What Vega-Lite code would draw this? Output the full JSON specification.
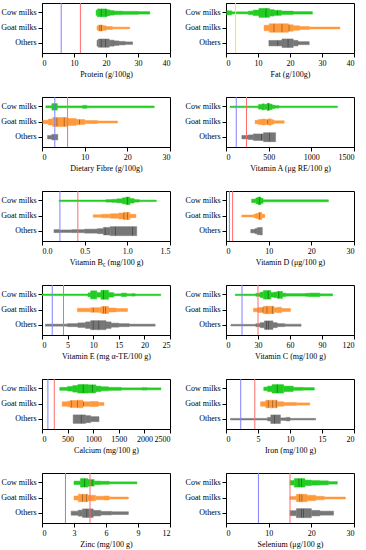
{
"$schema":"https://vega.github.io/schema/vega-lite/v6.json",
"padding":{"left":0,"top":2,"right":0,"bottom":0},
"columns":2,
"spacing":{"row":17,"column":13},
"config":{
 "font":"Liberation Serif",
 "view":{"stroke":"black","strokeWidth":1},
 "bar":{"strokeWidth":0.5},
 "axis":{"domainColor":"black","tickColor":"black","labelColor":"black","titleColor":"black","labelFont":"Liberation Serif","titleFont":"Liberation Serif","labelFontSize":8,"titleFontSize":8,"titleFontWeight":"normal","grid":false,"tickSize":4,"labelPadding":2,"titlePadding":3}
},
"datasets":{
"v":[
{"n":"P","g":"C","a":16.9,"b":17.3,"w":0.5},{"n":"P","g":"C","a":17.3,"b":20.2,"w":0.78},{"n":"P","g":"C","a":20.2,"b":21.2,"w":0.6},{"n":"P","g":"C","a":21.2,"b":22.5,"w":0.45},{"n":"P","g":"C","a":22.5,"b":25,"w":0.35},{"n":"P","g":"C","a":25,"b":30,"w":0.3},{"n":"P","g":"C","a":30,"b":33.7,"w":0.25},
{"n":"P","g":"G","a":17.2,"b":17.6,"w":0.4},{"n":"P","g":"G","a":17.6,"b":19,"w":0.6},{"n":"P","g":"G","a":19,"b":20,"w":0.45},{"n":"P","g":"G","a":20,"b":22,"w":0.3},{"n":"P","g":"G","a":22,"b":27.4,"w":0.18},
{"n":"P","g":"O","a":17.2,"b":17.6,"w":0.6},{"n":"P","g":"O","a":17.6,"b":21,"w":0.82},{"n":"P","g":"O","a":21,"b":22.5,"w":0.6},{"n":"P","g":"O","a":22.5,"b":24,"w":0.45},{"n":"P","g":"O","a":24,"b":26,"w":0.35},{"n":"P","g":"O","a":26,"b":28.3,"w":0.25},
{"n":"F","g":"C","a":0.2,"b":1.8,"w":0.4},{"n":"F","g":"C","a":1.8,"b":7,"w":0.2},{"n":"F","g":"C","a":7,"b":8.5,"w":0.35},{"n":"F","g":"C","a":8.5,"b":10.3,"w":0.55},{"n":"F","g":"C","a":10.3,"b":13.6,"w":0.9},{"n":"F","g":"C","a":13.6,"b":15,"w":0.65},{"n":"F","g":"C","a":15,"b":17.3,"w":0.5},{"n":"F","g":"C","a":17.3,"b":21,"w":0.35},{"n":"F","g":"C","a":21,"b":27,"w":0.25},
{"n":"F","g":"G","a":11.9,"b":13.5,"w":0.55},{"n":"F","g":"G","a":13.5,"b":19.5,"w":0.85},{"n":"F","g":"G","a":19.5,"b":21,"w":0.65},{"n":"F","g":"G","a":21,"b":23,"w":0.45},{"n":"F","g":"G","a":23,"b":26,"w":0.3},{"n":"F","g":"G","a":26,"b":35.6,"w":0.2},
{"n":"F","g":"O","a":13.4,"b":17.5,"w":0.55},{"n":"F","g":"O","a":17.5,"b":21,"w":0.85},{"n":"F","g":"O","a":21,"b":22.5,"w":0.55},{"n":"F","g":"O","a":22.5,"b":26,"w":0.3},
{"n":"DF","g":"C","a":0.9,"b":2.3,"w":0.2},{"n":"DF","g":"C","a":2.3,"b":3.6,"w":0.65},{"n":"DF","g":"C","a":3.6,"b":9.5,"w":0.18},{"n":"DF","g":"C","a":9.5,"b":10.5,"w":0.3},{"n":"DF","g":"C","a":10.5,"b":26.3,"w":0.18},
{"n":"DF","g":"G","a":0.2,"b":1.5,"w":0.35},{"n":"DF","g":"G","a":1.5,"b":2.5,"w":0.6},{"n":"DF","g":"G","a":2.5,"b":6,"w":0.9},{"n":"DF","g":"G","a":6,"b":8,"w":0.7},{"n":"DF","g":"G","a":8,"b":10,"w":0.5},{"n":"DF","g":"G","a":10,"b":13,"w":0.3},{"n":"DF","g":"G","a":13,"b":17.7,"w":0.2},
{"n":"DF","g":"O","a":1.3,"b":2.3,"w":0.35},{"n":"DF","g":"O","a":2.3,"b":3.7,"w":0.55},
{"n":"A","g":"C","a":47,"b":380,"w":0.15},{"n":"A","g":"C","a":380,"b":420,"w":0.45},{"n":"A","g":"C","a":420,"b":450,"w":0.6},{"n":"A","g":"C","a":450,"b":480,"w":0.5},{"n":"A","g":"C","a":480,"b":510,"w":0.7},{"n":"A","g":"C","a":510,"b":540,"w":0.55},{"n":"A","g":"C","a":540,"b":570,"w":0.35},{"n":"A","g":"C","a":570,"b":620,"w":0.25},{"n":"A","g":"C","a":620,"b":1306,"w":0.15},
{"n":"A","g":"G","a":341,"b":380,"w":0.35},{"n":"A","g":"G","a":380,"b":420,"w":0.5},{"n":"A","g":"G","a":420,"b":460,"w":0.6},{"n":"A","g":"G","a":460,"b":500,"w":0.5},{"n":"A","g":"G","a":500,"b":530,"w":0.65},{"n":"A","g":"G","a":530,"b":560,"w":0.45},{"n":"A","g":"G","a":560,"b":682,"w":0.25},
{"n":"A","g":"O","a":186,"b":260,"w":0.35},{"n":"A","g":"O","a":260,"b":320,"w":0.45},{"n":"A","g":"O","a":320,"b":440,"w":0.65},{"n":"A","g":"O","a":440,"b":581,"w":0.9},
{"n":"B6","g":"C","a":0.2,"b":0.75,"w":0.15},{"n":"B6","g":"C","a":0.75,"b":0.82,"w":0.25},{"n":"B6","g":"C","a":0.82,"b":0.88,"w":0.3},{"n":"B6","g":"C","a":0.88,"b":0.94,"w":0.4},{"n":"B6","g":"C","a":0.94,"b":0.98,"w":0.6},{"n":"B6","g":"C","a":0.98,"b":1.03,"w":0.75},{"n":"B6","g":"C","a":1.03,"b":1.08,"w":0.45},{"n":"B6","g":"C","a":1.08,"b":1.14,"w":0.25},{"n":"B6","g":"C","a":1.14,"b":1.34,"w":0.15},
{"n":"B6","g":"G","a":0.6,"b":0.7,"w":0.25},{"n":"B6","g":"G","a":0.7,"b":0.8,"w":0.35},{"n":"B6","g":"G","a":0.8,"b":0.9,"w":0.45},{"n":"B6","g":"G","a":0.9,"b":0.96,"w":0.6},{"n":"B6","g":"G","a":0.96,"b":1.03,"w":0.72},{"n":"B6","g":"G","a":1.03,"b":1.1,"w":0.35},
{"n":"B6","g":"O","a":0.14,"b":0.2,"w":0.3},{"n":"B6","g":"O","a":0.2,"b":0.35,"w":0.25},{"n":"B6","g":"O","a":0.35,"b":0.5,"w":0.3},{"n":"B6","g":"O","a":0.5,"b":0.65,"w":0.4},{"n":"B6","g":"O","a":0.65,"b":0.72,"w":0.5},{"n":"B6","g":"O","a":0.72,"b":0.8,"w":0.75},{"n":"B6","g":"O","a":0.8,"b":1.11,"w":0.9},
{"n":"D","g":"C","a":6,"b":7,"w":0.35},{"n":"D","g":"C","a":7,"b":7.5,"w":0.6},{"n":"D","g":"C","a":7.5,"b":8.2,"w":0.75},{"n":"D","g":"C","a":8.2,"b":8.7,"w":0.5},{"n":"D","g":"C","a":8.7,"b":24,"w":0.2},
{"n":"D","g":"G","a":3.7,"b":6.5,"w":0.2},{"n":"D","g":"G","a":6.5,"b":7,"w":0.35},{"n":"D","g":"G","a":7,"b":7.6,"w":0.5},{"n":"D","g":"G","a":7.6,"b":8.4,"w":0.7},{"n":"D","g":"G","a":8.4,"b":9.1,"w":0.35},
{"n":"D","g":"O","a":5.8,"b":6.8,"w":0.35},{"n":"D","g":"O","a":6.8,"b":7.3,"w":0.5},{"n":"D","g":"O","a":7.3,"b":8,"w":0.7},{"n":"D","g":"O","a":8,"b":8.5,"w":0.75},
{"n":"E","g":"C","a":0,"b":9,"w":0.15},{"n":"E","g":"C","a":9,"b":9.5,"w":0.4},{"n":"E","g":"C","a":9.5,"b":10.7,"w":0.8},{"n":"E","g":"C","a":10.7,"b":11.5,"w":0.45},{"n":"E","g":"C","a":11.5,"b":13,"w":0.9},{"n":"E","g":"C","a":13,"b":14,"w":0.45},{"n":"E","g":"C","a":14,"b":15.5,"w":0.2},{"n":"E","g":"C","a":15.5,"b":16.5,"w":0.35},{"n":"E","g":"C","a":16.5,"b":17.5,"w":0.2},{"n":"E","g":"C","a":17.5,"b":18.2,"w":0.25},{"n":"E","g":"C","a":18.2,"b":23.2,"w":0.15},
{"n":"E","g":"G","a":6.9,"b":9.5,"w":0.35},{"n":"E","g":"G","a":9.5,"b":11.2,"w":0.45},{"n":"E","g":"G","a":11.2,"b":11.6,"w":0.5},{"n":"E","g":"G","a":11.6,"b":13,"w":0.7},{"n":"E","g":"G","a":13,"b":14.5,"w":0.4},{"n":"E","g":"G","a":14.5,"b":16.7,"w":0.3},
{"n":"E","g":"O","a":0.65,"b":5,"w":0.2},{"n":"E","g":"O","a":5,"b":7,"w":0.3},{"n":"E","g":"O","a":7,"b":8.5,"w":0.45},{"n":"E","g":"O","a":8.5,"b":9.5,"w":0.65},{"n":"E","g":"O","a":9.5,"b":12.5,"w":0.9},{"n":"E","g":"O","a":12.5,"b":13.5,"w":0.65},{"n":"E","g":"O","a":13.5,"b":15,"w":0.4},{"n":"E","g":"O","a":15,"b":17,"w":0.3},{"n":"E","g":"O","a":17,"b":22.1,"w":0.2},
{"n":"C","g":"C","a":8.7,"b":28,"w":0.15},{"n":"C","g":"C","a":28,"b":32,"w":0.3},{"n":"C","g":"C","a":32,"b":35,"w":0.55},{"n":"C","g":"C","a":35,"b":42,"w":0.85},{"n":"C","g":"C","a":42,"b":45,"w":0.45},{"n":"C","g":"C","a":45,"b":48,"w":0.55},{"n":"C","g":"C","a":48,"b":53,"w":0.7},{"n":"C","g":"C","a":53,"b":56,"w":0.35},{"n":"C","g":"C","a":56,"b":75,"w":0.25},{"n":"C","g":"C","a":75,"b":78,"w":0.3},{"n":"C","g":"C","a":78,"b":88,"w":0.35},{"n":"C","g":"C","a":88,"b":100,"w":0.2},
{"n":"C","g":"G","a":25.7,"b":30,"w":0.35},{"n":"C","g":"G","a":30,"b":35,"w":0.5},{"n":"C","g":"G","a":35,"b":45,"w":0.75},{"n":"C","g":"G","a":45,"b":48,"w":0.45},{"n":"C","g":"G","a":48,"b":52,"w":0.55},{"n":"C","g":"G","a":52,"b":60.5,"w":0.3},
{"n":"C","g":"O","a":4.6,"b":28,"w":0.15},{"n":"C","g":"O","a":28,"b":32,"w":0.3},{"n":"C","g":"O","a":32,"b":36,"w":0.5},{"n":"C","g":"O","a":36,"b":44,"w":0.85},{"n":"C","g":"O","a":44,"b":48,"w":0.5},{"n":"C","g":"O","a":48,"b":55,"w":0.3},{"n":"C","g":"O","a":55,"b":70.4,"w":0.2},
{"n":"Ca","g":"C","a":347,"b":500,"w":0.3},{"n":"Ca","g":"C","a":500,"b":600,"w":0.45},{"n":"Ca","g":"C","a":600,"b":700,"w":0.65},{"n":"Ca","g":"C","a":700,"b":900,"w":0.85},{"n":"Ca","g":"C","a":900,"b":1050,"w":0.8},{"n":"Ca","g":"C","a":1050,"b":1150,"w":0.55},{"n":"Ca","g":"C","a":1150,"b":1300,"w":0.4},{"n":"Ca","g":"C","a":1300,"b":1550,"w":0.3},{"n":"Ca","g":"C","a":1550,"b":1950,"w":0.2},{"n":"Ca","g":"C","a":1950,"b":2050,"w":0.25},{"n":"Ca","g":"C","a":2050,"b":2323,"w":0.2},
{"n":"Ca","g":"G","a":393,"b":500,"w":0.45},{"n":"Ca","g":"G","a":500,"b":550,"w":0.55},{"n":"Ca","g":"G","a":550,"b":700,"w":0.7},{"n":"Ca","g":"G","a":700,"b":800,"w":0.75},{"n":"Ca","g":"G","a":800,"b":950,"w":0.45},{"n":"Ca","g":"G","a":950,"b":1100,"w":0.5},{"n":"Ca","g":"G","a":1100,"b":1211,"w":0.3},
{"n":"Ca","g":"O","a":609,"b":850,"w":0.85},{"n":"Ca","g":"O","a":850,"b":950,"w":0.7},{"n":"Ca","g":"O","a":950,"b":1113,"w":0.5},
{"n":"Fe","g":"C","a":5.9,"b":6.5,"w":0.35},{"n":"Fe","g":"C","a":6.5,"b":7.2,"w":0.55},{"n":"Fe","g":"C","a":7.2,"b":9,"w":0.85},{"n":"Fe","g":"C","a":9,"b":10.5,"w":0.55},{"n":"Fe","g":"C","a":10.5,"b":12,"w":0.3},{"n":"Fe","g":"C","a":12,"b":13.8,"w":0.25},
{"n":"Fe","g":"G","a":5.4,"b":6.2,"w":0.45},{"n":"Fe","g":"G","a":6.2,"b":8,"w":0.75},{"n":"Fe","g":"G","a":8,"b":9,"w":0.45},{"n":"Fe","g":"G","a":9,"b":11,"w":0.3},{"n":"Fe","g":"G","a":11,"b":13.1,"w":0.22},
{"n":"Fe","g":"O","a":0.7,"b":6.5,"w":0.15},{"n":"Fe","g":"O","a":6.5,"b":7,"w":0.35},{"n":"Fe","g":"O","a":7,"b":8.5,"w":0.85},{"n":"Fe","g":"O","a":8.5,"b":9.4,"w":0.25},{"n":"Fe","g":"O","a":9.4,"b":10,"w":0.35},{"n":"Fe","g":"O","a":10,"b":14,"w":0.15},
{"n":"Zn","g":"C","a":3,"b":3.6,"w":0.35},{"n":"Zn","g":"C","a":3.6,"b":4.3,"w":0.85},{"n":"Zn","g":"C","a":4.3,"b":4.9,"w":0.65},{"n":"Zn","g":"C","a":4.9,"b":5.5,"w":0.35},{"n":"Zn","g":"C","a":5.5,"b":6.3,"w":0.3},{"n":"Zn","g":"C","a":6.3,"b":8.9,"w":0.2},
{"n":"Zn","g":"G","a":3,"b":3.4,"w":0.4},{"n":"Zn","g":"G","a":3.4,"b":4.3,"w":0.75},{"n":"Zn","g":"G","a":4.3,"b":5,"w":0.55},{"n":"Zn","g":"G","a":5,"b":5.8,"w":0.35},{"n":"Zn","g":"G","a":5.8,"b":6.3,"w":0.4},{"n":"Zn","g":"G","a":6.3,"b":8.1,"w":0.2},
{"n":"Zn","g":"O","a":2.73,"b":3.4,"w":0.4},{"n":"Zn","g":"O","a":3.4,"b":3.8,"w":0.6},{"n":"Zn","g":"O","a":3.8,"b":4.8,"w":0.85},{"n":"Zn","g":"O","a":4.8,"b":5.5,"w":0.55},{"n":"Zn","g":"O","a":5.5,"b":6.5,"w":0.35},{"n":"Zn","g":"O","a":6.5,"b":8.1,"w":0.28},
{"n":"Se","g":"C","a":15,"b":16,"w":0.45},{"n":"Se","g":"C","a":16,"b":18.5,"w":0.85},{"n":"Se","g":"C","a":18.5,"b":20,"w":0.55},{"n":"Se","g":"C","a":20,"b":22,"w":0.45},{"n":"Se","g":"C","a":22,"b":24,"w":0.4},{"n":"Se","g":"C","a":24,"b":26.1,"w":0.25},
{"n":"Se","g":"G","a":15,"b":16.5,"w":0.3},{"n":"Se","g":"G","a":16.5,"b":19,"w":0.75},{"n":"Se","g":"G","a":19,"b":21,"w":0.55},{"n":"Se","g":"G","a":21,"b":23,"w":0.35},{"n":"Se","g":"G","a":23,"b":28,"w":0.2},
{"n":"Se","g":"O","a":15,"b":16.5,"w":0.5},{"n":"Se","g":"O","a":16.5,"b":20,"w":0.9},{"n":"Se","g":"O","a":20,"b":22,"w":0.55},{"n":"Se","g":"O","a":22,"b":25.2,"w":0.4}
],
"t":[
{"n":"P","g":"C","a":18.5,"w":0.78},{"n":"P","g":"C","a":20,"w":0.78},{"n":"P","g":"G","a":18.1,"w":0.6},{"n":"P","g":"G","a":18.6,"w":0.6},{"n":"P","g":"O","a":18.5,"w":0.82},{"n":"P","g":"O","a":19.8,"w":0.82},
{"n":"F","g":"C","a":12.5,"w":0.9},{"n":"F","g":"C","a":16,"w":0.5},{"n":"F","g":"G","a":15,"w":0.85},{"n":"F","g":"G","a":17.5,"w":0.85},{"n":"F","g":"G","a":19.7,"w":0.65},{"n":"F","g":"O","a":16.2,"w":0.55},{"n":"F","g":"O","a":19.4,"w":0.85},
{"n":"DF","g":"C","a":3,"w":0.65},{"n":"DF","g":"G","a":3.5,"w":0.9},{"n":"DF","g":"G","a":5.2,"w":0.9},{"n":"DF","g":"G","a":8.8,"w":0.5},{"n":"DF","g":"O","a":2.9,"w":0.55},
{"n":"A","g":"C","a":500,"w":0.7},{"n":"A","g":"G","a":490,"w":0.5},{"n":"A","g":"O","a":415,"w":0.65},{"n":"A","g":"O","a":512,"w":0.9},
{"n":"B6","g":"C","a":1.0,"w":0.75},{"n":"B6","g":"G","a":0.96,"w":0.72},{"n":"B6","g":"G","a":1.0,"w":0.72},{"n":"B6","g":"O","a":0.74,"w":0.75},{"n":"B6","g":"O","a":0.86,"w":0.9},{"n":"B6","g":"O","a":1.06,"w":0.9},
{"n":"D","g":"C","a":7.8,"w":0.75},{"n":"D","g":"G","a":7.9,"w":0.7},
{"n":"E","g":"C","a":12,"w":0.9},{"n":"E","g":"G","a":10,"w":0.45},{"n":"E","g":"G","a":12,"w":0.7},{"n":"E","g":"G","a":12.4,"w":0.7},{"n":"E","g":"O","a":10,"w":0.9},{"n":"E","g":"O","a":11.1,"w":0.9},
{"n":"C","g":"C","a":39.5,"w":0.85},{"n":"C","g":"C","a":49.5,"w":0.7},{"n":"C","g":"G","a":34.7,"w":0.5},{"n":"C","g":"G","a":38.4,"w":0.75},{"n":"C","g":"G","a":43.4,"w":0.75},{"n":"C","g":"O","a":37.8,"w":0.85},{"n":"C","g":"O","a":40,"w":0.85},
{"n":"Ca","g":"C","a":805,"w":0.85},{"n":"Ca","g":"C","a":982,"w":0.8},{"n":"Ca","g":"G","a":570,"w":0.7},{"n":"Ca","g":"G","a":695,"w":0.7},{"n":"Ca","g":"G","a":810,"w":0.45},{"n":"Ca","g":"O","a":766,"w":0.85},
{"n":"Fe","g":"C","a":8.0,"w":0.85},{"n":"Fe","g":"G","a":6.6,"w":0.75},{"n":"Fe","g":"G","a":7.3,"w":0.75},{"n":"Fe","g":"G","a":7.85,"w":0.75},{"n":"Fe","g":"O","a":7.6,"w":0.85},
{"n":"Zn","g":"C","a":4.0,"w":0.85},{"n":"Zn","g":"C","a":4.7,"w":0.65},{"n":"Zn","g":"G","a":3.8,"w":0.75},{"n":"Zn","g":"G","a":4.15,"w":0.75},{"n":"Zn","g":"O","a":4.2,"w":0.85},
{"n":"Se","g":"C","a":17.1,"w":0.85},{"n":"Se","g":"C","a":17.7,"w":0.85},{"n":"Se","g":"G","a":17.3,"w":0.75},{"n":"Se","g":"G","a":17.8,"w":0.75},{"n":"Se","g":"O","a":17.7,"w":0.9},{"n":"Se","g":"O","a":18.2,"w":0.9}
],
"r":[
{"n":"P","k":"lo","a":6},{"n":"P","k":"hi","a":12},
{"n":"F","k":"y","a":3},
{"n":"DF","k":"lo","a":3},{"n":"DF","k":"hi","a":6},
{"n":"A","k":"lo","a":120},{"n":"A","k":"hi","a":240},
{"n":"B6","k":"lo","a":0.21},{"n":"B6","k":"hi","a":0.42},
{"n":"D","k":"lo","a":0.8},{"n":"D","k":"hi","a":1.55},
{"n":"E","k":"lo","a":2.0},{"n":"E","k":"hi","a":4.2},
{"n":"C","k":"lo","a":15},{"n":"C","k":"hi","a":30},
{"n":"Ca","k":"lo","a":115},{"n":"Ca","k":"hi","a":240},
{"n":"Fe","k":"lo","a":2.3},{"n":"Fe","k":"hi","a":4.5},
{"n":"Zn","k":"lo","a":2.2},{"n":"Zn","k":"hi","a":4.5},
{"n":"Se","k":"lo","a":7.6},{"n":"Se","k":"hi","a":15}
]
},
"concat":[
{"width":128,"height":50,"encoding":{"x":{"field":"a","type":"quantitative","scale":{"domain":[0,40],"nice":false},"axis":{"values":[0,10,20,30,40],"format":"d","title":"Protein (g/100g)"}}},
 "layer":[
  {"data":{"name":"v"},"transform":[{"filter":"datum.n==='P'"}],"mark":"bar","encoding":{"x2":{"field":"b"},"y":{"field":"g","type":"nominal","sort":["C","G","O"],"scale":{"paddingInner":0,"paddingOuter":0.15},"axis":{"title":null,"labelExpr":"datum.value==='C'?'Cow milks':datum.value==='G'?'Goat milks':'Others'"}},"size":{"field":"w","type":"quantitative","scale":{"domain":[0,1],"range":[0,10]},"legend":null},"color":{"field":"g","type":"nominal","scale":{"domain":["C","G","O"],"range":["#22cc22","#ff9a3c","#777777"]},"legend":null},"stroke":{"field":"g","type":"nominal","scale":{"domain":["C","G","O"],"range":["#22cc22","#ff9a3c","#777777"]},"legend":null}}},
  {"data":{"name":"t"},"transform":[{"filter":"datum.n==='P'"}],"mark":{"type":"tick","color":"black","opacity":0.45,"thickness":0.7},"encoding":{"y":{"field":"g","type":"nominal","sort":["C","G","O"]},"size":{"field":"w","type":"quantitative"}}},
  {"data":{"name":"r"},"transform":[{"filter":"datum.n==='P'"}],"mark":{"type":"rule","strokeWidth":1},"encoding":{"color":{"field":"k","type":"nominal","scale":{"domain":["lo","hi","y"],"range":["#8080ff","#ff6b6b","#ffee00"]},"legend":null}}}
 ],"resolve":{"scale":{"color":"independent"}}},
{"width":128,"height":50,"encoding":{"x":{"field":"a","type":"quantitative","scale":{"domain":[0,40],"nice":false},"axis":{"values":[0,10,20,30,40],"format":"d","title":"Fat (g/100g)"}}},
 "layer":[
  {"data":{"name":"v"},"transform":[{"filter":"datum.n==='F'"}],"mark":"bar","encoding":{"x2":{"field":"b"},"y":{"field":"g","type":"nominal","sort":["C","G","O"],"scale":{"paddingInner":0,"paddingOuter":0.15},"axis":{"title":null,"labelExpr":"datum.value==='C'?'Cow milks':datum.value==='G'?'Goat milks':'Others'"}},"size":{"field":"w","type":"quantitative","scale":{"domain":[0,1],"range":[0,10]},"legend":null},"color":{"field":"g","type":"nominal","scale":{"domain":["C","G","O"],"range":["#22cc22","#ff9a3c","#777777"]},"legend":null},"stroke":{"field":"g","type":"nominal","scale":{"domain":["C","G","O"],"range":["#22cc22","#ff9a3c","#777777"]},"legend":null}}},
  {"data":{"name":"t"},"transform":[{"filter":"datum.n==='F'"}],"mark":{"type":"tick","color":"black","opacity":0.45,"thickness":0.7},"encoding":{"y":{"field":"g","type":"nominal","sort":["C","G","O"]},"size":{"field":"w","type":"quantitative"}}},
  {"data":{"name":"r"},"transform":[{"filter":"datum.n==='F'"}],"mark":{"type":"rule","strokeWidth":1},"encoding":{"color":{"field":"k","type":"nominal","scale":{"domain":["lo","hi","y"],"range":["#8080ff","#ff6b6b","#ffee00"]},"legend":null}}}
 ],"resolve":{"scale":{"color":"independent"}}},
{"width":128,"height":50,"encoding":{"x":{"field":"a","type":"quantitative","scale":{"domain":[0,30],"nice":false},"axis":{"values":[0,10,20,30],"format":"d","title":"Dietary Fibre (g/100g)"}}},
 "layer":[
  {"data":{"name":"v"},"transform":[{"filter":"datum.n==='DF'"}],"mark":"bar","encoding":{"x2":{"field":"b"},"y":{"field":"g","type":"nominal","sort":["C","G","O"],"scale":{"paddingInner":0,"paddingOuter":0.15},"axis":{"title":null,"labelExpr":"datum.value==='C'?'Cow milks':datum.value==='G'?'Goat milks':'Others'"}},"size":{"field":"w","type":"quantitative","scale":{"domain":[0,1],"range":[0,10]},"legend":null},"color":{"field":"g","type":"nominal","scale":{"domain":["C","G","O"],"range":["#22cc22","#ff9a3c","#777777"]},"legend":null},"stroke":{"field":"g","type":"nominal","scale":{"domain":["C","G","O"],"range":["#22cc22","#ff9a3c","#777777"]},"legend":null}}},
  {"data":{"name":"t"},"transform":[{"filter":"datum.n==='DF'"}],"mark":{"type":"tick","color":"black","opacity":0.45,"thickness":0.7},"encoding":{"y":{"field":"g","type":"nominal","sort":["C","G","O"]},"size":{"field":"w","type":"quantitative"}}},
  {"data":{"name":"r"},"transform":[{"filter":"datum.n==='DF'"}],"mark":{"type":"rule","strokeWidth":1},"encoding":{"color":{"field":"k","type":"nominal","scale":{"domain":["lo","hi","y"],"range":["#8080ff","#ff6b6b","#ffee00"]},"legend":null}}}
 ],"resolve":{"scale":{"color":"independent"}}},
{"width":128,"height":50,"encoding":{"x":{"field":"a","type":"quantitative","scale":{"domain":[0,1500],"nice":false},"axis":{"values":[0,500,1000,1500],"format":"d","title":"Vitamin A (μg RE/100 g)"}}},
 "layer":[
  {"data":{"name":"v"},"transform":[{"filter":"datum.n==='A'"}],"mark":"bar","encoding":{"x2":{"field":"b"},"y":{"field":"g","type":"nominal","sort":["C","G","O"],"scale":{"paddingInner":0,"paddingOuter":0.15},"axis":{"title":null,"labelExpr":"datum.value==='C'?'Cow milks':datum.value==='G'?'Goat milks':'Others'"}},"size":{"field":"w","type":"quantitative","scale":{"domain":[0,1],"range":[0,10]},"legend":null},"color":{"field":"g","type":"nominal","scale":{"domain":["C","G","O"],"range":["#22cc22","#ff9a3c","#777777"]},"legend":null},"stroke":{"field":"g","type":"nominal","scale":{"domain":["C","G","O"],"range":["#22cc22","#ff9a3c","#777777"]},"legend":null}}},
  {"data":{"name":"t"},"transform":[{"filter":"datum.n==='A'"}],"mark":{"type":"tick","color":"black","opacity":0.45,"thickness":0.7},"encoding":{"y":{"field":"g","type":"nominal","sort":["C","G","O"]},"size":{"field":"w","type":"quantitative"}}},
  {"data":{"name":"r"},"transform":[{"filter":"datum.n==='A'"}],"mark":{"type":"rule","strokeWidth":1},"encoding":{"color":{"field":"k","type":"nominal","scale":{"domain":["lo","hi","y"],"range":["#8080ff","#ff6b6b","#ffee00"]},"legend":null}}}
 ],"resolve":{"scale":{"color":"independent"}}},
{"width":128,"height":50,"encoding":{"x":{"field":"a","type":"quantitative","scale":{"domain":[0,1.5],"nice":false},"axis":{"values":[0,0.5,1,1.5],"format":".1f","title":"Vitamin B₆ (mg/100 g)"}}},
 "layer":[
  {"data":{"name":"v"},"transform":[{"filter":"datum.n==='B6'"}],"mark":"bar","encoding":{"x2":{"field":"b"},"y":{"field":"g","type":"nominal","sort":["C","G","O"],"scale":{"paddingInner":0,"paddingOuter":0.15},"axis":{"title":null,"labelExpr":"datum.value==='C'?'Cow milks':datum.value==='G'?'Goat milks':'Others'"}},"size":{"field":"w","type":"quantitative","scale":{"domain":[0,1],"range":[0,10]},"legend":null},"color":{"field":"g","type":"nominal","scale":{"domain":["C","G","O"],"range":["#22cc22","#ff9a3c","#777777"]},"legend":null},"stroke":{"field":"g","type":"nominal","scale":{"domain":["C","G","O"],"range":["#22cc22","#ff9a3c","#777777"]},"legend":null}}},
  {"data":{"name":"t"},"transform":[{"filter":"datum.n==='B6'"}],"mark":{"type":"tick","color":"black","opacity":0.45,"thickness":0.7},"encoding":{"y":{"field":"g","type":"nominal","sort":["C","G","O"]},"size":{"field":"w","type":"quantitative"}}},
  {"data":{"name":"r"},"transform":[{"filter":"datum.n==='B6'"}],"mark":{"type":"rule","strokeWidth":1},"encoding":{"color":{"field":"k","type":"nominal","scale":{"domain":["lo","hi","y"],"range":["#8080ff","#ff6b6b","#ffee00"]},"legend":null}}}
 ],"resolve":{"scale":{"color":"independent"}}},
{"width":128,"height":50,"encoding":{"x":{"field":"a","type":"quantitative","scale":{"domain":[0,30],"nice":false},"axis":{"values":[0,10,20,30],"format":"d","title":"Vitamin D (μg/100 g)"}}},
 "layer":[
  {"data":{"name":"v"},"transform":[{"filter":"datum.n==='D'"}],"mark":"bar","encoding":{"x2":{"field":"b"},"y":{"field":"g","type":"nominal","sort":["C","G","O"],"scale":{"paddingInner":0,"paddingOuter":0.15},"axis":{"title":null,"labelExpr":"datum.value==='C'?'Cow milks':datum.value==='G'?'Goat milks':'Others'"}},"size":{"field":"w","type":"quantitative","scale":{"domain":[0,1],"range":[0,10]},"legend":null},"color":{"field":"g","type":"nominal","scale":{"domain":["C","G","O"],"range":["#22cc22","#ff9a3c","#777777"]},"legend":null},"stroke":{"field":"g","type":"nominal","scale":{"domain":["C","G","O"],"range":["#22cc22","#ff9a3c","#777777"]},"legend":null}}},
  {"data":{"name":"t"},"transform":[{"filter":"datum.n==='D'"}],"mark":{"type":"tick","color":"black","opacity":0.45,"thickness":0.7},"encoding":{"y":{"field":"g","type":"nominal","sort":["C","G","O"]},"size":{"field":"w","type":"quantitative"}}},
  {"data":{"name":"r"},"transform":[{"filter":"datum.n==='D'"}],"mark":{"type":"rule","strokeWidth":1},"encoding":{"color":{"field":"k","type":"nominal","scale":{"domain":["lo","hi","y"],"range":["#8080ff","#ff6b6b","#ffee00"]},"legend":null}}}
 ],"resolve":{"scale":{"color":"independent"}}},
{"width":128,"height":50,"encoding":{"x":{"field":"a","type":"quantitative","scale":{"domain":[0,25],"nice":false},"axis":{"values":[0,5,10,15,20,25],"format":"d","title":"Vitamin E (mg α-TE/100 g)"}}},
 "layer":[
  {"data":{"name":"v"},"transform":[{"filter":"datum.n==='E'"}],"mark":"bar","encoding":{"x2":{"field":"b"},"y":{"field":"g","type":"nominal","sort":["C","G","O"],"scale":{"paddingInner":0,"paddingOuter":0.15},"axis":{"title":null,"labelExpr":"datum.value==='C'?'Cow milks':datum.value==='G'?'Goat milks':'Others'"}},"size":{"field":"w","type":"quantitative","scale":{"domain":[0,1],"range":[0,10]},"legend":null},"color":{"field":"g","type":"nominal","scale":{"domain":["C","G","O"],"range":["#22cc22","#ff9a3c","#777777"]},"legend":null},"stroke":{"field":"g","type":"nominal","scale":{"domain":["C","G","O"],"range":["#22cc22","#ff9a3c","#777777"]},"legend":null}}},
  {"data":{"name":"t"},"transform":[{"filter":"datum.n==='E'"}],"mark":{"type":"tick","color":"black","opacity":0.45,"thickness":0.7},"encoding":{"y":{"field":"g","type":"nominal","sort":["C","G","O"]},"size":{"field":"w","type":"quantitative"}}},
  {"data":{"name":"r"},"transform":[{"filter":"datum.n==='E'"}],"mark":{"type":"rule","strokeWidth":1},"encoding":{"color":{"field":"k","type":"nominal","scale":{"domain":["lo","hi","y"],"range":["#8080ff","#ff6b6b","#ffee00"]},"legend":null}}}
 ],"resolve":{"scale":{"color":"independent"}}},
{"width":128,"height":50,"encoding":{"x":{"field":"a","type":"quantitative","scale":{"domain":[0,120],"nice":false},"axis":{"values":[0,30,60,90,120],"format":"d","title":"Vitamin C (mg/100 g)"}}},
 "layer":[
  {"data":{"name":"v"},"transform":[{"filter":"datum.n==='C'"}],"mark":"bar","encoding":{"x2":{"field":"b"},"y":{"field":"g","type":"nominal","sort":["C","G","O"],"scale":{"paddingInner":0,"paddingOuter":0.15},"axis":{"title":null,"labelExpr":"datum.value==='C'?'Cow milks':datum.value==='G'?'Goat milks':'Others'"}},"size":{"field":"w","type":"quantitative","scale":{"domain":[0,1],"range":[0,10]},"legend":null},"color":{"field":"g","type":"nominal","scale":{"domain":["C","G","O"],"range":["#22cc22","#ff9a3c","#777777"]},"legend":null},"stroke":{"field":"g","type":"nominal","scale":{"domain":["C","G","O"],"range":["#22cc22","#ff9a3c","#777777"]},"legend":null}}},
  {"data":{"name":"t"},"transform":[{"filter":"datum.n==='C'"}],"mark":{"type":"tick","color":"black","opacity":0.45,"thickness":0.7},"encoding":{"y":{"field":"g","type":"nominal","sort":["C","G","O"]},"size":{"field":"w","type":"quantitative"}}},
  {"data":{"name":"r"},"transform":[{"filter":"datum.n==='C'"}],"mark":{"type":"rule","strokeWidth":1},"encoding":{"color":{"field":"k","type":"nominal","scale":{"domain":["lo","hi","y"],"range":["#8080ff","#ff6b6b","#ffee00"]},"legend":null}}}
 ],"resolve":{"scale":{"color":"independent"}}},
{"width":128,"height":50,"encoding":{"x":{"field":"a","type":"quantitative","scale":{"domain":[0,2500],"nice":false},"axis":{"values":[0,500,1000,1500,2000,2500],"format":"d","title":"Calcium (mg/100 g)"}}},
 "layer":[
  {"data":{"name":"v"},"transform":[{"filter":"datum.n==='Ca'"}],"mark":"bar","encoding":{"x2":{"field":"b"},"y":{"field":"g","type":"nominal","sort":["C","G","O"],"scale":{"paddingInner":0,"paddingOuter":0.15},"axis":{"title":null,"labelExpr":"datum.value==='C'?'Cow milks':datum.value==='G'?'Goat milks':'Others'"}},"size":{"field":"w","type":"quantitative","scale":{"domain":[0,1],"range":[0,10]},"legend":null},"color":{"field":"g","type":"nominal","scale":{"domain":["C","G","O"],"range":["#22cc22","#ff9a3c","#777777"]},"legend":null},"stroke":{"field":"g","type":"nominal","scale":{"domain":["C","G","O"],"range":["#22cc22","#ff9a3c","#777777"]},"legend":null}}},
  {"data":{"name":"t"},"transform":[{"filter":"datum.n==='Ca'"}],"mark":{"type":"tick","color":"black","opacity":0.45,"thickness":0.7},"encoding":{"y":{"field":"g","type":"nominal","sort":["C","G","O"]},"size":{"field":"w","type":"quantitative"}}},
  {"data":{"name":"r"},"transform":[{"filter":"datum.n==='Ca'"}],"mark":{"type":"rule","strokeWidth":1},"encoding":{"color":{"field":"k","type":"nominal","scale":{"domain":["lo","hi","y"],"range":["#8080ff","#ff6b6b","#ffee00"]},"legend":null}}}
 ],"resolve":{"scale":{"color":"independent"}}},
{"width":128,"height":50,"encoding":{"x":{"field":"a","type":"quantitative","scale":{"domain":[0,20],"nice":false},"axis":{"values":[0,5,10,15,20],"format":"d","title":"Iron (mg/100 g)"}}},
 "layer":[
  {"data":{"name":"v"},"transform":[{"filter":"datum.n==='Fe'"}],"mark":"bar","encoding":{"x2":{"field":"b"},"y":{"field":"g","type":"nominal","sort":["C","G","O"],"scale":{"paddingInner":0,"paddingOuter":0.15},"axis":{"title":null,"labelExpr":"datum.value==='C'?'Cow milks':datum.value==='G'?'Goat milks':'Others'"}},"size":{"field":"w","type":"quantitative","scale":{"domain":[0,1],"range":[0,10]},"legend":null},"color":{"field":"g","type":"nominal","scale":{"domain":["C","G","O"],"range":["#22cc22","#ff9a3c","#777777"]},"legend":null},"stroke":{"field":"g","type":"nominal","scale":{"domain":["C","G","O"],"range":["#22cc22","#ff9a3c","#777777"]},"legend":null}}},
  {"data":{"name":"t"},"transform":[{"filter":"datum.n==='Fe'"}],"mark":{"type":"tick","color":"black","opacity":0.45,"thickness":0.7},"encoding":{"y":{"field":"g","type":"nominal","sort":["C","G","O"]},"size":{"field":"w","type":"quantitative"}}},
  {"data":{"name":"r"},"transform":[{"filter":"datum.n==='Fe'"}],"mark":{"type":"rule","strokeWidth":1},"encoding":{"color":{"field":"k","type":"nominal","scale":{"domain":["lo","hi","y"],"range":["#8080ff","#ff6b6b","#ffee00"]},"legend":null}}}
 ],"resolve":{"scale":{"color":"independent"}}},
{"width":128,"height":50,"encoding":{"x":{"field":"a","type":"quantitative","scale":{"domain":[0,12],"nice":false},"axis":{"values":[0,3,6,9,12],"format":"d","title":"Zinc (mg/100 g)"}}},
 "layer":[
  {"data":{"name":"v"},"transform":[{"filter":"datum.n==='Zn'"}],"mark":"bar","encoding":{"x2":{"field":"b"},"y":{"field":"g","type":"nominal","sort":["C","G","O"],"scale":{"paddingInner":0,"paddingOuter":0.15},"axis":{"title":null,"labelExpr":"datum.value==='C'?'Cow milks':datum.value==='G'?'Goat milks':'Others'"}},"size":{"field":"w","type":"quantitative","scale":{"domain":[0,1],"range":[0,10]},"legend":null},"color":{"field":"g","type":"nominal","scale":{"domain":["C","G","O"],"range":["#22cc22","#ff9a3c","#777777"]},"legend":null},"stroke":{"field":"g","type":"nominal","scale":{"domain":["C","G","O"],"range":["#22cc22","#ff9a3c","#777777"]},"legend":null}}},
  {"data":{"name":"t"},"transform":[{"filter":"datum.n==='Zn'"}],"mark":{"type":"tick","color":"black","opacity":0.45,"thickness":0.7},"encoding":{"y":{"field":"g","type":"nominal","sort":["C","G","O"]},"size":{"field":"w","type":"quantitative"}}},
  {"data":{"name":"r"},"transform":[{"filter":"datum.n==='Zn'"}],"mark":{"type":"rule","strokeWidth":1},"encoding":{"color":{"field":"k","type":"nominal","scale":{"domain":["lo","hi","y"],"range":["#8080ff","#ff6b6b","#ffee00"]},"legend":null}}}
 ],"resolve":{"scale":{"color":"independent"}}},
{"width":128,"height":50,"encoding":{"x":{"field":"a","type":"quantitative","scale":{"domain":[0,30],"nice":false},"axis":{"values":[0,10,20,30],"format":"d","title":"Selenium (μg/100 g)"}}},
 "layer":[
  {"data":{"name":"v"},"transform":[{"filter":"datum.n==='Se'"}],"mark":"bar","encoding":{"x2":{"field":"b"},"y":{"field":"g","type":"nominal","sort":["C","G","O"],"scale":{"paddingInner":0,"paddingOuter":0.15},"axis":{"title":null,"labelExpr":"datum.value==='C'?'Cow milks':datum.value==='G'?'Goat milks':'Others'"}},"size":{"field":"w","type":"quantitative","scale":{"domain":[0,1],"range":[0,10]},"legend":null},"color":{"field":"g","type":"nominal","scale":{"domain":["C","G","O"],"range":["#22cc22","#ff9a3c","#777777"]},"legend":null},"stroke":{"field":"g","type":"nominal","scale":{"domain":["C","G","O"],"range":["#22cc22","#ff9a3c","#777777"]},"legend":null}}},
  {"data":{"name":"t"},"transform":[{"filter":"datum.n==='Se'"}],"mark":{"type":"tick","color":"black","opacity":0.45,"thickness":0.7},"encoding":{"y":{"field":"g","type":"nominal","sort":["C","G","O"]},"size":{"field":"w","type":"quantitative"}}},
  {"data":{"name":"r"},"transform":[{"filter":"datum.n==='Se'"}],"mark":{"type":"rule","strokeWidth":1},"encoding":{"color":{"field":"k","type":"nominal","scale":{"domain":["lo","hi","y"],"range":["#8080ff","#ff6b6b","#ffee00"]},"legend":null}}}
 ],"resolve":{"scale":{"color":"independent"}}}
]
}
